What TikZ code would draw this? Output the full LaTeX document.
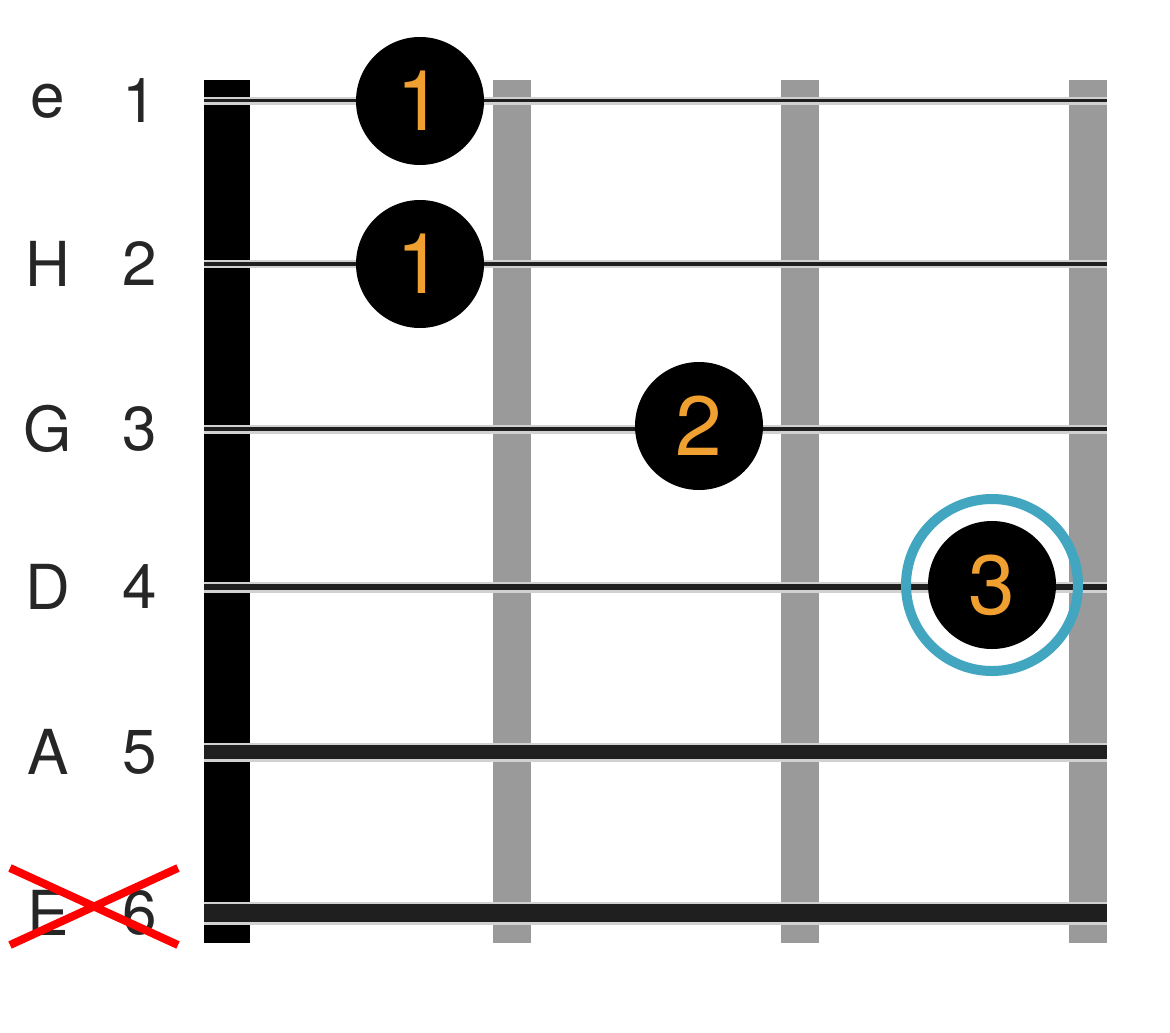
\documentclass[tikz,border=0pt]{standalone}
\usepackage{fontspec}
\setmainfont{TeX Gyre Heros}
\definecolor{fretg}{HTML}{9A9A9A}
\definecolor{dorange}{HTML}{F0A030}
\definecolor{ringblue}{HTML}{42A6C0}
\begin{document}
\begin{tikzpicture}[x=0.5pt,y=-0.5pt,
  lab/.style={font=\fontsize{31}{31}\selectfont,text=black!85,inner sep=0},
  dot/.style={circle,fill=black,minimum size=64pt,inner sep=0,text=dorange,font=\fontsize{42}{42}\selectfont},
  fret/.style={fill=fretg},
  str/.style={line width=#1*0.5pt,black!88}]
\useasboundingbox (0,0) rectangle (1170,1032);
\fill (204,80) rectangle (250,943);
\foreach \x in {493,781,1069}{\fill[fret] (\x,80) rectangle (\x+38,943);}
\foreach \y/\w in {101/3,264/3.5,429/4,587/6,752/14,913/18}{
  \draw[line width=(\w+5)*0.5pt,black!18] (204,\y) -- (1107,\y);
  \draw[str=\w] (204,\y) -- (1107,\y);}
\foreach \l/\n/\y [count=\i] in {e/1/101,H/2/264,G/3/429,D/4/587,A/5/752,E/6/913}{
  \node[lab] (l\i) at (48,\y) {\l};
  \node[lab] (n\i) at (140,\y) {\n};}
\node[dot] (d1) at (420,101) {1};
\node[dot] (d2) at (420,264) {1};
\node[dot] (d3) at (699,426) {2};
\node[dot] (d4) at (992,585) {3};
\draw[ringblue,line width=5pt] (d4.center) circle (43pt);
\draw[red,line width=4pt] (10,868) -- (178,945) (10,945) -- (178,868);
\end{tikzpicture}
\end{document}
